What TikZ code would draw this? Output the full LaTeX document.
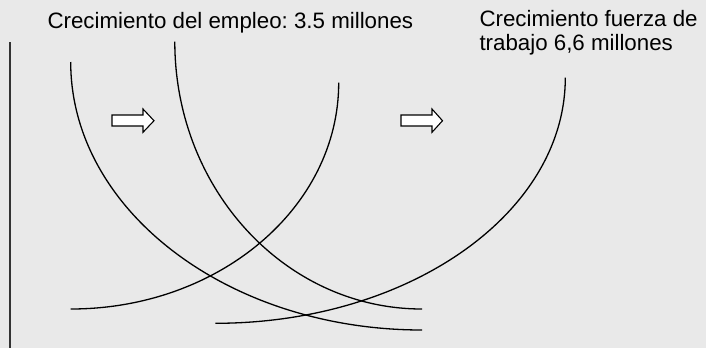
\documentclass[tikz,border=0pt]{standalone}
\usepackage{fontspec}
\setmainfont{Liberation Sans}
\definecolor{bg}{RGB}{233,233,233}
\definecolor{axisgray}{RGB}{51,51,51}
\tikzset{
  curve/.style={line width=1.3pt, black},
  blockarrow/.style={draw=black, fill=white, line width=1.1pt, line join=miter},
  lbl/.style={inner sep=0pt, anchor=base west, font=\fontsize{22.3}{25}\selectfont\frenchspacing}
}
\begin{document}
\begin{tikzpicture}[x=1pt,y=-1pt]
\fill[bg] (0,0) rectangle (706,348);
\useasboundingbox (0,0) rectangle (706,348);
% axis
\coordinate (ax1) at (10,42);
\coordinate (ax2) at (10,348);
\draw[axisgray, line width=2pt] (ax1) -- (ax2);
% curves
\coordinate (a1) at (70.7,62);   \coordinate (a2) at (422,330);
\coordinate (b1) at (174.8,41.7); \coordinate (b2) at (422,309);
\coordinate (c1) at (338.7,82.7); \coordinate (c2) at (70.7,309);
\coordinate (d1) at (565.3,77.7); \coordinate (d2) at (215.3,323.3);
\draw[curve] (a1) .. controls (70.7,210) and (228,330) .. (a2);
\draw[curve] (b1) .. controls (174.8,189.3) and (285.5,309) .. (b2);
\draw[curve] (c1) .. controls (338.7,207.7) and (218.7,309) .. (c2);
\draw[curve] (d1) .. controls (565.3,213.3) and (408.6,323.3) .. (d2);
% block arrows
\draw[blockarrow] (112,115) -- (143,115) -- (143,109) -- (154,120.7) -- (143,132.3) -- (143,126) -- (112,126) -- cycle;
\draw[blockarrow] (401,115) -- (432,115) -- (432,109) -- (442.5,120.7) -- (432,132.3) -- (432,126) -- (401,126) -- cycle;
% labels
\node[lbl] (t1) at (47.3,28.3) {Crecimiento del empleo: 3.5 millones};
\node[lbl] (t2) at (479.3,26.7) {Crecimiento fuerza de};
\node[lbl] (t3) at (479.3,50.7) {trabajo 6,6 millones};
\end{tikzpicture}
\end{document}
